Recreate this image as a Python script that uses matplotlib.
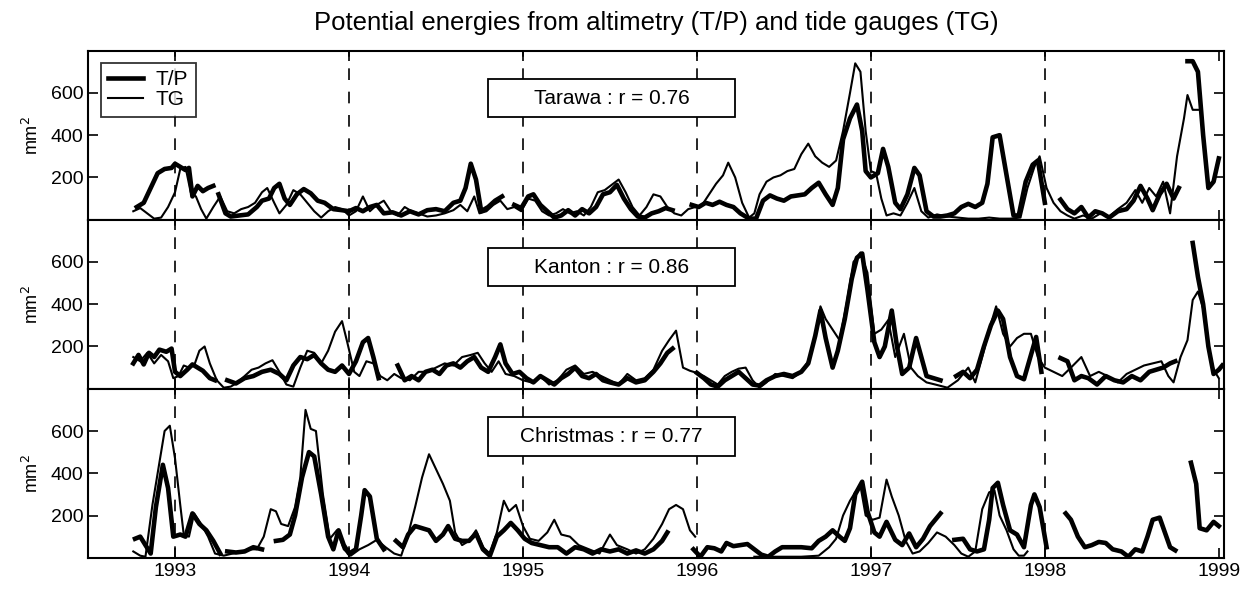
import numpy as np
import matplotlib
matplotlib.use("Agg")
import matplotlib.pyplot as plt
from matplotlib.patches import Rectangle

plt.rcParams['font.family'] = ['Liberation Sans', 'DejaVu Sans']

N = None
years = [1993, 1994, 1995, 1996, 1997, 1998, 1999]
stations = ["Tarawa", "Kanton", "Christmas"]
corr = [0.76, 0.86, 0.77]

# Tarawa, T/P (thick)
tara_tp_t = [1992.78, 1992.82, 1992.86, 1992.90, 1992.94, 1992.98, 1993.00, 1993.03, 1993.06, 1993.08,
             1993.10, 1993.13, 1993.16, 1993.19, 1993.22, N,
             1993.25, 1993.29, 1993.32, 1993.37, 1993.42, 1993.47, 1993.50, 1993.54, 1993.57, 1993.60,
             1993.63, 1993.66, 1993.70, 1993.74, 1993.78, 1993.82, 1993.86, 1993.91, 1993.96, 1994.00,
             1994.04, 1994.08, 1994.12, 1994.16, 1994.20, 1994.25, 1994.30, 1994.35, 1994.40, 1994.45,
             1994.50, 1994.55, 1994.60, 1994.64, 1994.67, 1994.70, 1994.73, 1994.76, 1994.80, 1994.84,
             1994.88, N,
             1994.95, 1994.99, 1995.03, 1995.06, 1995.10, 1995.14, 1995.18, 1995.22, 1995.26, 1995.30,
             1995.34, 1995.38, 1995.42, 1995.46, 1995.50, 1995.54, 1995.58, 1995.62, 1995.66, 1995.70,
             1995.74, 1995.78, 1995.82, 1995.86, N,
             1995.97, 1996.01, 1996.05, 1996.09, 1996.13, 1996.17, 1996.21, 1996.25, 1996.30, 1996.34,
             1996.38, 1996.42, 1996.46, 1996.50, 1996.54, 1996.58, 1996.62, 1996.66, 1996.70, 1996.74,
             1996.78, 1996.81, 1996.84, 1996.88, 1996.92, 1996.95, 1996.97, 1997.00, 1997.04, 1997.07,
             1997.10, 1997.14, 1997.17, 1997.21, 1997.25, 1997.28, 1997.32, 1997.36, 1997.40, 1997.44,
             1997.48, 1997.52, 1997.56, 1997.60, 1997.64, 1997.67, 1997.70, 1997.74, 1997.78, 1997.82,
             1997.85, 1997.89, 1997.93, 1997.96, 1998.00, N,
             1998.09, 1998.13, 1998.17, 1998.21, 1998.25, 1998.29, 1998.33, 1998.37, 1998.42, 1998.47,
             1998.51, 1998.55, 1998.59, 1998.62, 1998.66, 1998.70, 1998.74, 1998.77, N,
             1998.82, 1998.85, 1998.88, 1998.91, 1998.94, 1998.97, 1999.00]
tara_tp_v = [60, 80, 150, 220, 240, 245, 265, 250, 235, 245,
             110, 160, 135, 150, 160, N,
             120, 30, 15, 20, 25, 60, 90, 100, 150, 170,
             100, 70, 120, 145, 125, 90, 80, 50, 45, 40,
             55, 40, 60, 70, 30, 35, 20, 40, 25, 45,
             50, 40, 80, 90, 150, 265, 190, 40, 60, 90,
             110, N,
             70, 55, 110, 120, 70, 40, 10, 20, 45, 20,
             50, 30, 60, 120, 130, 165, 100, 50, 15, 10,
             30, 40, 55, 45, N,
             70, 60, 80, 70, 85, 70, 60, 30, 5, 5,
             90, 115, 100, 90, 110, 115, 120, 150, 175, 120,
             70, 150, 380, 480, 545, 420, 230, 200, 220, 335,
             250, 80, 50, 120, 245, 210, 40, 15, 15, 20,
             30, 60, 75, 60, 80, 170, 390, 400, 210, 20,
             20, 180, 260, 280, 80, N,
             95, 50, 30, 60, 10, 40, 30, 10, 40, 50,
             90, 160, 100, 45, 120, 170, 100, 150, N,
             750, 750, 700, 400, 150, 180, 290]

# Tarawa, tide gauge (thin)
tara_tg_t = [1992.76, 1992.80, 1992.84, 1992.88, 1992.92, 1992.96, 1993.00, 1993.03, 1993.06, 1993.09,
             1993.12, 1993.15, 1993.18, 1993.22, 1993.26, 1993.30, 1993.34, 1993.38, 1993.42, 1993.46,
             1993.50, 1993.53, 1993.57, 1993.60, 1993.64, 1993.68, 1993.72, 1993.76, 1993.80, 1993.84,
             1993.88, 1993.92, 1993.96, 1994.00, 1994.04, 1994.08, 1994.12, 1994.16, 1994.20, 1994.24,
             1994.28, 1994.32, 1994.36, 1994.40, 1994.45, 1994.50, 1994.55, 1994.60, 1994.64, 1994.68,
             1994.72, 1994.75, 1994.79, 1994.83, 1994.87, 1994.91, 1994.95, 1994.99, 1995.03, 1995.07,
             1995.11, 1995.15, 1995.19, 1995.23, 1995.27, 1995.31, 1995.35, 1995.39, 1995.43, 1995.47,
             1995.51, 1995.55, 1995.59, 1995.63, 1995.67, 1995.71, 1995.75, 1995.79, 1995.83, 1995.87,
             1995.91, 1995.95, 1995.99, 1996.03, 1996.07, 1996.11, 1996.15, 1996.18, 1996.22, 1996.26,
             1996.30, 1996.33, 1996.36, 1996.40, 1996.44, 1996.48, 1996.52, 1996.56, 1996.60, 1996.64,
             1996.68, 1996.72, 1996.76, 1996.80, 1996.84, 1996.88, 1996.91, 1996.94, 1996.97, 1997.00,
             1997.03, 1997.06, 1997.09, 1997.13, 1997.17, 1997.21, 1997.25, 1997.29, 1997.33, 1997.38,
             1997.44, 1997.50, 1997.56, 1997.62, 1997.68, 1997.74, 1997.80, 1997.86, 1997.90, 1997.94,
             1997.97, 1998.01, 1998.05, 1998.09, 1998.13, 1998.17, 1998.22, 1998.27, 1998.32, 1998.37,
             1998.42, 1998.47, 1998.52, 1998.56, 1998.60, 1998.64, 1998.68, 1998.72, 1998.76, 1998.80,
             1998.82, 1998.85, 1998.88]
tara_tg_v = [40, 55, 30, 5, 10, 60, 130, 240, 250, 130,
             110, 50, 5, 60, 110, 40, 30, 50, 60, 80,
             130, 150, 80, 30, 70, 140, 120, 80, 40, 10,
             40, 60, 50, 20, 40, 110, 40, 70, 90, 40,
             20, 60, 40, 30, 15, 20, 30, 45, 70, 40,
             110, 30, 40, 70, 90, 50, 60, 40, 100, 90,
             40, 20, 30, 50, 30, 40, 20, 60, 130, 140,
             165, 190, 130, 60, 20, 60, 120, 110, 60, 30,
             20, 50, 60, 70, 120, 170, 210, 270, 200, 80,
             10, 30, 120, 180, 200, 210, 230, 240, 310, 360,
             300, 270, 250, 280, 420, 600, 740, 700, 420, 230,
             220, 100, 20, 30, 20, 80, 150, 40, 10, 25,
             15, 10, 5, 5, 10, 5, 5, 10, 150, 250,
             300, 150, 80, 40, 20, 5, 20, 5, 30, 15,
             50, 80, 140, 80, 150, 110, 180, 30, 300, 480,
             590, 520, 520]

# Kanton, T/P (thick)
kant_tp_t = [1992.76, 1992.79, 1992.82, 1992.85, 1992.88, 1992.91, 1992.95, 1992.98, 1993.00, 1993.03,
             1993.07, 1993.10, 1993.13, 1993.16, 1993.20, 1993.23, N,
             1993.30, 1993.35, 1993.40, 1993.45, 1993.50, 1993.55, 1993.60, 1993.64, 1993.68, 1993.72,
             1993.76, 1993.80, 1993.84, 1993.88, 1993.92, 1993.96, 1994.00, 1994.04, 1994.08, 1994.11,
             1994.14, 1994.17, N,
             1994.28, 1994.32, 1994.36, 1994.40, 1994.44, 1994.48, 1994.52, 1994.56, 1994.60, 1994.64,
             1994.68, 1994.72, 1994.76, 1994.80, 1994.84, 1994.87, 1994.90, 1994.94, 1994.98, 1995.02,
             1995.06, 1995.10, 1995.14, 1995.18, 1995.22, 1995.26, 1995.30, 1995.34, 1995.38, 1995.42,
             1995.46, 1995.50, 1995.55, 1995.60, 1995.65, 1995.70, 1995.75, 1995.79, 1995.83, 1995.86, N,
             1996.00, 1996.04, 1996.08, 1996.12, 1996.16, 1996.20, 1996.24, 1996.28, 1996.32, 1996.36,
             1996.40, 1996.45, 1996.50, 1996.55, 1996.60, 1996.64, 1996.68, 1996.71, 1996.74, 1996.78,
             1996.81, 1996.85, 1996.89, 1996.92, 1996.95, 1996.98, 1997.02, 1997.05, 1997.08, 1997.12,
             1997.15, 1997.18, 1997.22, 1997.26, 1997.29, 1997.32, 1997.36, 1997.40, N,
             1997.49, 1997.53, 1997.57, 1997.61, 1997.65, 1997.69, 1997.73, 1997.76, 1997.80, 1997.84,
             1997.88, 1997.92, 1997.95, 1997.98, N,
             1998.09, 1998.13, 1998.17, 1998.21, 1998.25, 1998.30, 1998.35, 1998.40, 1998.45, 1998.50,
             1998.55, 1998.60, 1998.64, 1998.68, 1998.72, 1998.75, N,
             1998.85, 1998.88, 1998.91, 1998.94, 1998.97, 1999.00, 1999.02]
kant_tp_v = [120, 160, 115, 170, 150, 185, 175, 190, 80, 60,
             90, 115, 100, 85, 50, 40, N,
             40, 25, 50, 60, 80, 90, 70, 40, 110, 150,
             140, 160, 120, 90, 80, 110, 70, 130, 220, 240,
             150, 50, N,
             110, 40, 60, 40, 80, 90, 70, 110, 120, 100,
             130, 150, 100, 80, 150, 210, 120, 70, 80, 50,
             30, 60, 40, 20, 50, 70, 100, 60, 50, 70,
             40, 30, 20, 50, 30, 40, 80, 120, 170, 190, N,
             75, 50, 20, 10, 40, 60, 80, 50, 20, 15,
             40, 60, 70, 60, 80, 120, 250, 370, 240, 100,
             180, 330, 520, 620, 640, 470, 220, 150, 200, 370,
             200, 70, 100, 240, 150, 60, 50, 40, N,
             60, 80, 50, 90, 200, 300, 370, 330, 150, 60,
             45, 160, 245, 80, N,
             145, 130, 40, 60, 50, 20, 60, 40, 30, 60,
             40, 80, 90, 100, 120, 130, N,
             690, 530, 400, 200, 70, 90, 110]

# Kanton, tide gauge (thin)
kant_tg_t = [1992.76, 1992.80, 1992.84, 1992.88, 1992.92, 1992.96, 1992.99, 1993.02, 1993.05, 1993.08,
             1993.11, 1993.14, 1993.17, 1993.20, 1993.24, 1993.28, 1993.32, 1993.36, 1993.40, 1993.44,
             1993.48, 1993.52, 1993.56, 1993.60, 1993.64, 1993.68, 1993.72, 1993.76, 1993.80, 1993.84,
             1993.88, 1993.92, 1993.96, 1993.99, 1994.03, 1994.06, 1994.10, 1994.14, 1994.18, 1994.22,
             1994.26, 1994.30, 1994.35, 1994.40, 1994.45, 1994.50, 1994.55, 1994.60, 1994.65, 1994.70,
             1994.74, 1994.78, 1994.82, 1994.86, 1994.90, 1994.95, 1995.00, 1995.05, 1995.10, 1995.15,
             1995.20, 1995.25, 1995.30, 1995.35, 1995.40, 1995.45, 1995.50, 1995.55, 1995.60, 1995.65,
             1995.70, 1995.75, 1995.80, 1995.84, 1995.88, 1995.92, 1995.96, 1996.00, 1996.04, 1996.08,
             1996.12, 1996.16, 1996.20, 1996.24, 1996.28, 1996.32, 1996.36, 1996.40, 1996.45, 1996.50,
             1996.55, 1996.60, 1996.64, 1996.68, 1996.71, 1996.74, 1996.78, 1996.82, 1996.86, 1996.90,
             1996.94, 1996.98, 1997.02, 1997.06, 1997.10, 1997.14, 1997.19, 1997.23, 1997.27, 1997.32,
             1997.37, 1997.44, 1997.50, 1997.56, 1997.60, 1997.64, 1997.68, 1997.72, 1997.76, 1997.80,
             1997.84, 1997.88, 1997.92, 1997.96, 1998.00, 1998.05, 1998.10, 1998.15, 1998.21, 1998.26,
             1998.31, 1998.36, 1998.42, 1998.47, 1998.52, 1998.57, 1998.62, 1998.67, 1998.71, 1998.74,
             1998.78, 1998.82, 1998.85, 1998.88, 1998.91, 1998.94, 1998.97, 1999.00]
kant_tg_v = [150, 130, 170, 120, 160, 130, 50, 60, 110, 100,
             110, 180, 200, 120, 40, 5, 10, 30, 60, 90,
             100, 120, 135, 80, 20, 10, 100, 180, 170, 120,
             180, 270, 320, 220, 80, 60, 130, 120, 60, 40,
             70, 50, 40, 80, 80, 100, 120, 110, 150, 160,
             170, 120, 80, 130, 70, 60, 40, 30, 60, 20,
             40, 90, 110, 70, 80, 60, 40, 20, 70, 40,
             50, 90, 180, 230, 275, 100, 85, 75, 60, 40,
             20, 60, 80, 95, 100, 40, 5, 30, 70, 60,
             50, 80, 130, 250, 390, 330, 280, 230, 400, 600,
             645, 550, 260, 280, 325, 150, 260, 100, 60, 30,
             20, 5, 40, 100, 30, 150, 280, 390, 260, 200,
             240, 260, 260, 150, 100, 80, 60, 100, 150, 60,
             80, 60, 30, 70, 90, 110, 120, 130, 60, 30,
             150, 230, 420, 460, 380, 200, 90, 50]

# Christmas, T/P (thick)
chri_tp_t = [1992.77, 1992.80, 1992.83, 1992.86, 1992.89, 1992.93, 1992.96, 1992.99, 1993.03, 1993.06,
             1993.10, 1993.14, 1993.18, 1993.22, 1993.26, N,
             1993.30, 1993.35, 1993.40, 1993.45, 1993.50, N,
             1993.58, 1993.62, 1993.66, 1993.69, 1993.73, 1993.77, 1993.80, 1993.84, 1993.88, 1993.91,
             1993.94, 1993.97, 1994.00, 1994.04, 1994.07, 1994.09, 1994.12, 1994.16, 1994.20, N,
             1994.27, 1994.31, 1994.34, 1994.38, 1994.42, 1994.46, 1994.50, 1994.54, 1994.57, 1994.61,
             1994.65, 1994.69, 1994.73, 1994.77, 1994.81, 1994.85, 1994.89, 1994.93, 1994.97, 1995.01,
             1995.05, 1995.10, 1995.15, 1995.20, 1995.25, 1995.30, 1995.35, 1995.40, 1995.45, 1995.50,
             1995.55, 1995.60, 1995.65, 1995.70, 1995.75, 1995.80, 1995.83, N,
             1995.98, 1996.02, 1996.06, 1996.10, 1996.14, 1996.17, 1996.21, 1996.25, 1996.29, 1996.33,
             1996.37, 1996.41, 1996.45, 1996.49, 1996.55, 1996.60, 1996.66, 1996.70, 1996.74, 1996.78,
             1996.82, 1996.85, 1996.88, 1996.91, 1996.95, 1996.98, 1997.02, 1997.05, 1997.09, 1997.14,
             1997.18, 1997.22, 1997.26, 1997.30, 1997.34, 1997.37, 1997.40, N,
             1997.48, 1997.53, 1997.57, 1997.61, 1997.65, 1997.68, 1997.70, 1997.73, 1997.76, 1997.80,
             1997.84, 1997.88, 1997.92, 1997.94, 1997.97, 1998.01, N,
             1998.12, 1998.15, 1998.19, 1998.23, 1998.27, 1998.31, 1998.35, 1998.39, 1998.44, 1998.48,
             1998.52, 1998.56, 1998.59, 1998.62, 1998.66, 1998.69, 1998.72, 1998.75, N,
             1998.84, 1998.87, 1998.89, 1998.93, 1998.97, 1999.00]
chri_tp_v = [90, 100, 60, 20, 240, 440, 330, 100, 110, 100,
             210, 160, 130, 80, 20, N,
             30, 25, 30, 50, 40, N,
             80, 85, 110, 200, 380, 500, 480, 300, 100, 40,
             130, 60, 20, 40, 200, 320, 290, 90, 40, N,
             80, 50, 110, 150, 140, 130, 80, 110, 150, 90,
             80, 80, 115, 40, 10, 100, 130, 165, 130, 90,
             70, 60, 50, 50, 20, 50, 40, 20, 40, 30,
             40, 20, 35, 20, 40, 80, 120, N,
             40, 5, 50, 45, 30, 70, 55, 60, 65, 40,
             15, 5, 30, 50, 50, 50, 45, 80, 100, 130,
             100, 80, 140, 300, 360, 220, 120, 100, 170, 85,
             60, 115, 50, 90, 150, 180, 210, N,
             85, 90, 40, 30, 40, 180, 330, 355, 250, 130,
             110, 50, 250, 300, 240, 50, N,
             210, 180, 100, 50, 60, 75, 70, 40, 30, 5,
             40, 30, 100, 180, 190, 120, 50, 35, N,
             450, 350, 140, 130, 170, 150]

# Christmas, tide gauge (thin)
chri_tg_t = [1992.76, 1992.80, 1992.83, 1992.87, 1992.91, 1992.94, 1992.97, 1993.00, 1993.03, 1993.05,
             1993.08, 1993.11, 1993.15, 1993.19, 1993.23, 1993.28, 1993.33, 1993.38, 1993.43, 1993.47,
             1993.51, 1993.55, 1993.58, 1993.61, 1993.65, 1993.69, 1993.72, 1993.75, 1993.78, 1993.81,
             1993.85, 1993.89, 1993.93, 1993.97, 1994.01, 1994.06, 1994.11, 1994.16, 1994.21, 1994.26,
             1994.30, 1994.34, 1994.38, 1994.42, 1994.46, 1994.50, 1994.54, 1994.58, 1994.61, 1994.65,
             1994.69, 1994.73, 1994.77, 1994.81, 1994.85, 1994.89, 1994.92, 1994.96, 1995.00, 1995.04,
             1995.09, 1995.14, 1995.18, 1995.22, 1995.27, 1995.32, 1995.38, 1995.44, 1995.50, 1995.54,
             1995.60, 1995.65, 1995.70, 1995.75, 1995.80, 1995.84, 1995.88, 1995.92, 1995.96, 1995.99, N,
             1996.33, 1996.40, 1996.50, 1996.60, 1996.70, 1996.76, 1996.80, 1996.84, 1996.88, 1996.91,
             1996.94, 1996.97, 1997.01, 1997.05, 1997.09, 1997.12, 1997.16, 1997.20, 1997.24, 1997.28,
             1997.33, 1997.38, 1997.43, 1997.48, 1997.52, 1997.56, 1997.60, 1997.64, 1997.68, 1997.71,
             1997.74, 1997.78, 1997.82, 1997.85, 1997.88, 1997.90]
chri_tg_v = [30, 10, 5, 250, 450, 600, 625, 470, 250, 110,
             100, 210, 160, 100, 20, 10, 20, 30, 40, 40,
             100, 230, 220, 160, 150, 240, 380, 700, 610, 600,
             300, 90, 130, 40, 10, 40, 60, 85, 50, 20,
             10, 110, 240, 380, 490, 420, 350, 270, 120, 60,
             80, 130, 50, 20, 120, 270, 220, 250, 150, 90,
             80, 120, 180, 110, 100, 60, 40, 20, 110, 60,
             40, 20, 40, 90, 160, 230, 250, 230, 130, 100, N,
             5, 5, 5, 5, 10, 50, 90, 200, 270, 310,
             340, 200, 180, 190, 370, 290, 200, 80, 20, 30,
             70, 120, 100, 60, 20, 5, 30, 230, 310, 320,
             200, 130, 40, 10, 10, 30]

tp_series = [(tara_tp_t, tara_tp_v), (kant_tp_t, kant_tp_v), (chri_tp_t, chri_tp_v)]
tg_series = [(tara_tg_t, tara_tg_v), (kant_tg_t, kant_tg_v), (chri_tg_t, chri_tg_v)]

fig, axes = plt.subplots(3, 1, sharex=True, figsize=(12.49, 5.89), dpi=100)
fig.subplots_adjust(left=0.0705, right=0.980, top=0.914, bottom=0.053, hspace=0)

for i, ax in enumerate(axes):
    t, v = tp_series[i]
    ax.plot(np.array(t, dtype=float), np.array(v, dtype=float), color='black', lw=3.3,
            solid_joinstyle='round', label='T/P')
    t, v = tg_series[i]
    ax.plot(np.array(t, dtype=float), np.array(v, dtype=float), color='black', lw=1.5,
            label='TG')
    for yr in years[:-1]:
        ax.axvline(yr, color='black', lw=1.2, linestyle=(0, (7, 7)), zorder=0)
    ax.set_ylim(0, 800)
    ax.set_xlim(1992.5, 1999.03)
    ax.set_yticks([200, 400, 600])
    ax.set_xticks(years)
    ax.tick_params(direction='in', top=True, right=True, labelsize=14, length=7, width=1.2)
    ax.set_ylabel('mm$^2$', fontsize=13, labelpad=6)
    for s in ax.spines.values():
        s.set_linewidth(1.5)
    ax.add_patch(Rectangle((0.352, 0.605), 0.2175, 0.225, transform=ax.transAxes,
                           facecolor='white', edgecolor='black', lw=1.3, zorder=5))
    ax.text(0.4608, 0.717, f"{stations[i]} : r = {corr[i]:.2f}", transform=ax.transAxes,
            ha='center', va='center', fontsize=15, zorder=6)

leg = axes[0].legend(loc='upper left', fontsize=15, frameon=True, fancybox=False,
                     handlelength=1.7, borderaxespad=0.6, borderpad=0.35,
                     labelspacing=0.05, handletextpad=0.6)
leg.get_frame().set_edgecolor('black')
leg.get_frame().set_linewidth(1.3)

axes[0].set_title('Potential energies from altimetry (T/P) and tide gauges (TG)',
                  fontsize=18.5, pad=15)

plt.savefig('out.png', dpi=100)
